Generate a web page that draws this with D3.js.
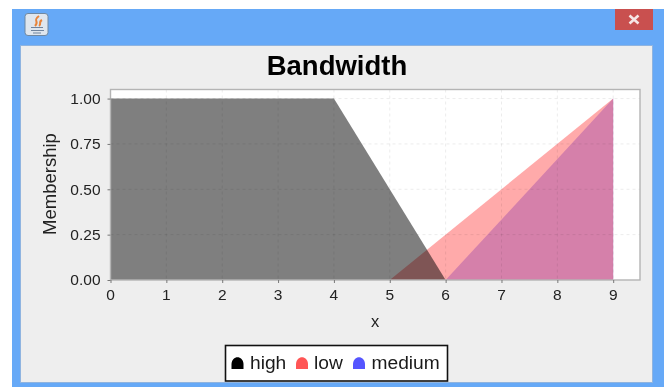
<!DOCTYPE html>
<html><head><meta charset="utf-8">
<script src="https://cdn.jsdelivr.net/npm/d3@7"></script>
<style>html,body{margin:0;padding:0;background:#fff}svg{display:block;filter:blur(0.35px)}text{font-family:"Liberation Sans",Arial,sans-serif}</style>
</head><body><div id="chart"></div>
<script>
const chartTitle = "Bandwidth";
const xLabel = "x";
const yLabel = "Membership";
const xTicks = [0,1,2,3,4,5,6,7,8,9];
const yTicks = [0,0.25,0.5,0.75,1];
const seriesNames = ["medium","low","high"];
const legendOrder = ["high","low","medium"];
const mediumX = [6,9,9], mediumY = [0,1,0];
const lowX = [5,9,9], lowY = [0,1,0];
const highX = [0,0,4,6], highY = [0,1,1,0];
const fills = {high:"rgba(0,0,0,.5)",low:"rgba(255,85,85,.5)",medium:"rgba(85,85,255,.5)"};
const legendColors = {high:"#000",low:"#ff5555",medium:"#5555ff"};
const seriesX = {medium:mediumX,low:lowX,high:highX}, seriesY = {medium:mediumY,low:lowY,high:highY};

const svg = d3.select("#chart").append("svg").attr("width",670).attr("height",387);
// window chrome
svg.append("rect").attr("x",12).attr("y",9).attr("width",652).attr("height",378).attr("fill","#66a9f7");
svg.append("rect").attr("x",20.5).attr("y",45.5).attr("width",632).attr("height",337).attr("fill","#eeeeee").attr("stroke","#8fb4e0");
svg.append("rect").attr("x",615).attr("y",9).attr("width",38).attr("height",21).attr("fill","#c9504f");
svg.append("path").attr("d","M629.5 15.5L638.5 23.5M638.5 15.5L629.5 23.5").attr("stroke","#f6e6e6").attr("stroke-width",2.6).attr("fill","none");
const ic = svg.append("g");
ic.append("rect").attr("x",25).attr("y",13.5).attr("width",23).attr("height",22).attr("rx",3).attr("fill","#dfe6ee").attr("stroke","#6f88a2");
ic.append("path").attr("d","M39 16C32 21 40 21 35 26M42 20C38 22 42 24 39 26").attr("stroke","#e8843a").attr("stroke-width",2).attr("fill","none");
ic.append("path").attr("d","M31 27.5H43M31 30.5H44M33 33H41").attr("stroke","#70849e").attr("stroke-width",1.2).attr("fill","none");

// plot
const L=110.5,R=640,T=89.5,B=280;
const x = d3.scaleLinear().domain([0,9.48]).range([L,R]);
const y = d3.scaleLinear().domain([0,1.05]).range([B,T]);
svg.append("rect").attr("x",L).attr("y",T).attr("width",R-L).attr("height",B-T).attr("fill","#fff");
const area = d3.line().x(d=>x(d[0])).y(d=>y(d[1]));
seriesNames.forEach(n=>{
  svg.append("path").attr("d",area(d3.zip(seriesX[n],seriesY[n]))+"Z").attr("fill",fills[n]);
});
const grid = svg.append("g").attr("stroke","rgba(0,0,0,.08)").attr("stroke-dasharray","3,3");
grid.selectAll(".gx").data(xTicks.slice(1)).join("line").attr("x1",d=>x(d)).attr("x2",d=>x(d)).attr("y1",T).attr("y2",B);
grid.selectAll(".gy").data(yTicks.slice(1)).join("line").attr("y1",d=>y(d)).attr("y2",d=>y(d)).attr("x1",L).attr("x2",R);
svg.append("rect").attr("x",L).attr("y",T).attr("width",R-L).attr("height",B-T).attr("fill","none").attr("stroke","#b4b4b4").attr("stroke-width",1.4);

const xAxis = svg.append("g").attr("transform",`translate(0,${B})`).call(d3.axisBottom(x).tickValues(xTicks).tickFormat(d3.format("d")).tickSize(3).tickPadding(6));
const yAxis = svg.append("g").attr("transform",`translate(${L},0)`).call(d3.axisLeft(y).tickValues(yTicks).tickFormat(d3.format(".2f")).tickSize(3).tickPadding(7));
[xAxis,yAxis].forEach(a=>{
  a.select(".domain").remove();
  a.selectAll("line").attr("stroke","#777");
  a.selectAll("text").attr("fill","#222").style("font-size","15.5px");
});
xAxis.selectAll("text").attr("dx",-0.5);

svg.append("text").attr("x",337).attr("y",75).attr("text-anchor","middle").attr("font-weight","bold").style("font-size","27.5px").attr("fill","#000").text(chartTitle);
svg.append("text").attr("x",375).attr("y",327).attr("text-anchor","middle").style("font-size","16.5px").attr("fill","#222").text(xLabel);
svg.append("text").attr("transform","translate(56,184) rotate(-90)").attr("text-anchor","middle").style("font-size","18.5px").attr("fill","#222").text(yLabel);

// legend
svg.append("rect").attr("x",225.5).attr("y",345.5).attr("width",222).attr("height",35.5).attr("fill","#fff").attr("stroke","#111").attr("stroke-width",1.6);
const legendSymX = {high:237.5,low:302,medium:359}, legendTextX = {high:250,low:314,medium:371.5};
legendOrder.forEach(n=>{
  const c=legendSymX[n];
  svg.append("path").attr("d",`M${c-6} 369V364C${c-5.5} 355 ${c+5.5} 355 ${c+6} 364V369Z`).attr("fill",legendColors[n]);
  svg.append("text").attr("x",legendTextX[n]).attr("y",369).style("font-size","19.2px").attr("fill","#1a1a1a").text(n);
});
</script></body></html>
